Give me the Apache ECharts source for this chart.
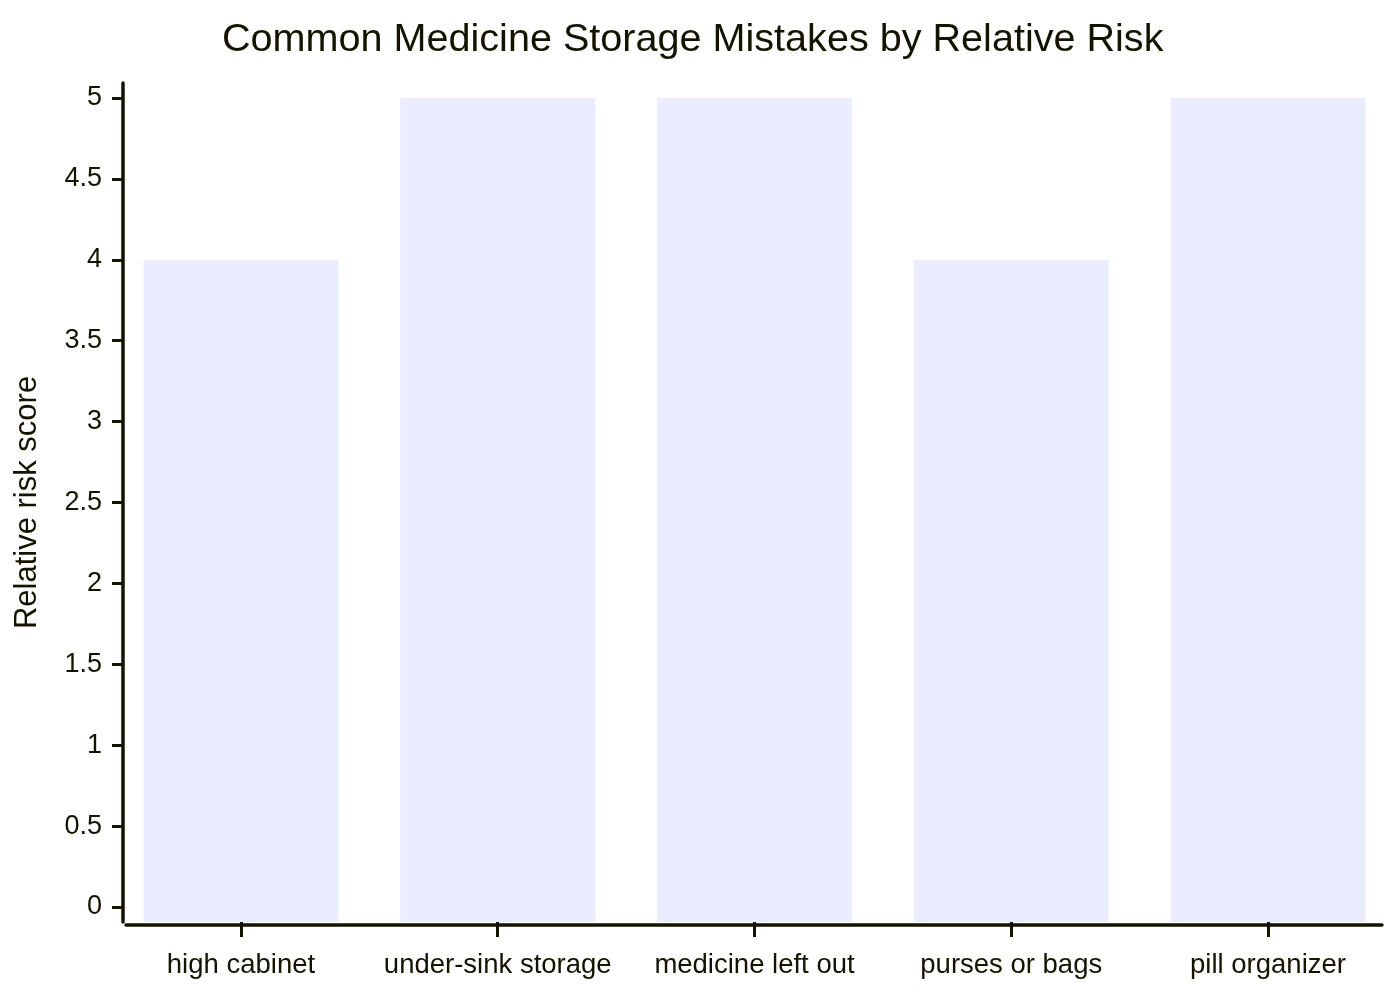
<!DOCTYPE html>
<html>
<head>
<meta charset="utf-8">
<script src="https://cdn.jsdelivr.net/npm/echarts@6/dist/echarts.min.js"></script>
<style>html,body{margin:0;padding:0;background:#fff}#c{width:1400px;height:1000px}</style>
</head>
<body>
<div id="c"></div>
<script>
const titleText = 'Common Medicine Storage Mistakes by Relative Risk';
const yAxisTitle = 'Relative risk score';
const categories = ['high cabinet', 'under-sink storage', 'medicine left out', 'purses or bags', 'pill organizer'];
const riskScores = [4, 5, 5, 4, 5];
const yTicks = [0, 0.5, 1, 1.5, 2, 2.5, 3, 3.5, 4, 4.5, 5];

const ink = '#131300';
const font = 'Liberation Sans, Arial, sans-serif';
const yMin = -0.0927, yMax = 5.0927;

const chart = echarts.init(document.getElementById('c'), null, {renderer: 'canvas'});
chart.setOption({
  animation: false,
  backgroundColor: '#ffffff',
  title: {
    text: titleText, left: 217, top: 15,
    textStyle: {color: ink, fontSize: 39.6, fontWeight: 'normal', fontFamily: font}
  },
  grid: [
    {left: 112.6, right: 3.6, top: 83, bottom: 78},
    {left: 126, right: 18, top: 83, bottom: 75}
  ],
  xAxis: [
    {
      type: 'category', gridIndex: 0, data: categories,
      axisLine: {show: true, onZero: false, lineStyle: {color: 'rgba(0,0,0,0)', width: 0}},
      axisTick: {show: true, alignWithLabel: true, interval: 0, length: 15, lineStyle: {color: ink, width: 3}},
      axisLabel: {color: ink, fontSize: 27.5, fontFamily: font, margin: 29, interval: 0},
      splitLine: {show: false}
    },
    {
      type: 'value', gridIndex: 1, min: 0, max: 1,
      axisLine: {show: true, onZero: false, lineStyle: {color: ink, width: 3.5}},
      axisTick: {show: false}, axisLabel: {show: false}, splitLine: {show: false}
    }
  ],
  yAxis: [
    {
      type: 'value', gridIndex: 0, min: yMin, max: yMax, startValue: yMin,
      offset: -10.4,
      name: yAxisTitle, nameLocation: 'middle', nameGap: 80, nameRotate: 90,
      nameTextStyle: {color: ink, fontSize: 31, fontFamily: font},
      axisLine: {show: true, lineStyle: {color: ink, width: 3.5}},
      axisTick: {show: true, length: 11, customValues: yTicks, lineStyle: {color: ink, width: 3}},
      axisLabel: {color: ink, fontSize: 27, fontFamily: font, margin: 21, customValues: yTicks},
      splitLine: {show: false}
    },
    {
      type: 'value', gridIndex: 1, show: false
    }
  ],
  series: [{
    type: 'bar', xAxisIndex: 0, yAxisIndex: 0,
    data: riskScores, barWidth: 195,
    itemStyle: {color: '#ECECFF'}
  }]
});
</script>
</body>
</html>
